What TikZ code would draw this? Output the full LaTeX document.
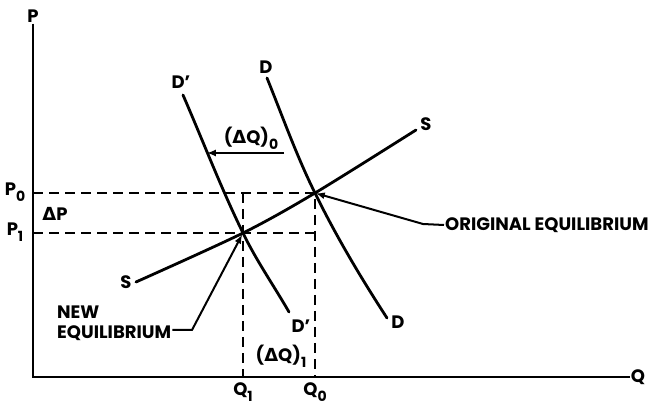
\documentclass[tikz,border=0pt]{standalone}
\usepackage{fontspec}
\setmainfont{Poppins}
\newfontfamily\greekfont{DejaVu Sans}
\usetikzlibrary{arrows, positioning}
\tikzstyle{axis} = [line width=2.3pt]
\tikzstyle{curve} = [line width=2.8pt, line cap=round]
\tikzstyle{guide} = [line width=1.8pt, dash pattern=on 10pt off 6pt]
\tikzstyle{lbl} = [inner sep=1pt, font=\fontsize{18}{20}\selectfont\bfseries]
\tikzstyle{arrow} = [line width=2pt,->,>=latex]
\newcommand{\subidx}[1]{\raisebox{-0.35em}{\fontsize{14}{14}\selectfont #1}}
\newcommand{\dlt}{{\greekfont\bfseries Δ}}

\begin{document}
\begin{tikzpicture}[x=1pt, y=-1pt]
\useasboundingbox (0,0) rectangle (649,409);
% Axes
\coordinate (origin) at (33,377);
\node (plbl) [lbl] at (33,16) {P};
\node (qlbl) [lbl] at (638,377) {Q};
\draw [axis] (plbl) -- (origin) -- (qlbl);

% Equilibrium points
\coordinate (eqo) at (315,193);
\coordinate (eqn) at (243,233);

% Dashed guides
\draw [guide] (origin |- eqo) -- (eqo) -- (eqo |- origin);
\draw [guide] (origin |- eqn) -- (eqo |- eqn);
\draw [guide] (eqn |- eqo) -- (eqn |- origin);
\node (p0) [lbl] at (15,192) {P\subidx{0}};
\node (p1) [lbl] at (15,232) {P\subidx{1}};
\node (q1) [lbl] at (243,392) {Q\subidx{1}};
\node (q0) [lbl] at (315,392) {Q\subidx{0}};
\node (dp) [lbl] at (55,214) {\dlt P};
\node (dq1) [lbl] at (281,356) {(\dlt Q)\subidx{1}};

% Supply curve
\coordinate (slo) at (136,282);
\coordinate (shi) at (416,130);
\draw [curve] plot [smooth] coordinates {(slo) (eqn) (eqo) (shi)};
\node (slbl) [lbl] at (126,282) {S};
\node (shilbl) [lbl] at (426,124) {S};

% Demand curves
\coordinate (dhi) at (267,78);
\coordinate (dlo) at (387,318);
\draw [curve] (dhi) .. controls (282,115) and (297,157) .. (eqo)
  .. controls (336,236) and (361,278) .. (dlo);
\node (dlbl) [lbl] at (266,67) {D};
\node (dlolbl) [lbl] at (398,322) {D};

\coordinate (dphi) at (183,95);
\coordinate (dplo) at (289,312);
\draw [curve] (dphi) .. controls (203,141) and (221,188) .. (eqn)
  .. controls (256,260) and (274,286) .. (dplo);
\node (dplbl) [lbl] at (181,82) {D'};
\node (dplolbl) [lbl] at (301,326) {D'};

% Shift of demand
\coordinate (dq0r) at (284,153);
\coordinate (dq0l) at (207,153);
\draw [arrow] (dq0r) -- (dq0l);
\node (dq0) [lbl] at (251,138) {(\dlt Q)\subidx{0}};

% Equilibrium labels
\node (orig) [lbl, anchor=west] at (444,225) {ORIGINAL EQUILIBRIUM};
\coordinate (origbend) at (423,224);
\draw [arrow, shorten >=1pt] (orig.west) -- (origbend) -- (eqo);
\node (new) [lbl, anchor=west, align=left] at (56,323) {NEW\\EQUILIBRIUM};
\coordinate (newbend) at (192,330);
\draw [arrow, shorten >=2pt] (new.east |- newbend) -- (newbend) -- (eqn);
\end{tikzpicture}
\end{document}
